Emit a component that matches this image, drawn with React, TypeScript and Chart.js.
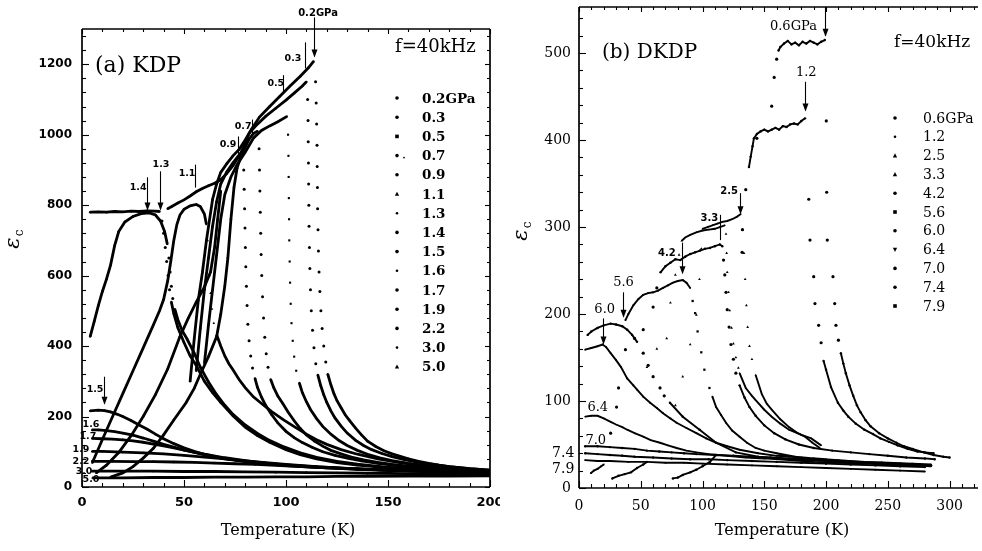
import React, { useEffect, useRef } from "react";
import { Chart, registerables } from "chart.js";

Chart.register(...registerables);

type Pt = [number, number] | null;

// ======================= (a) KDP =======================
const kdpTempTicks = [0, 50, 100, 150, 200];
const kdpEpsTicks = [0, 200, 400, 600, 800, 1000, 1200];
const kdpLabels = ["0.2GPa", "0.3", "0.5", "0.7", "0.9", "1.1", "1.3", "1.4", "1.5", "1.6", "1.7", "1.9", "2.2", "3.0", "5.0"];

const kdp02Curve: Pt[] = [
  [53, 300], [55, 420], [57, 530], [59, 608], [61, 700], [64, 816], [66, 860], [68, 893], [71, 918], [74, 940], [77, 958],
  [80, 985], [83, 1015], [87, 1050], [92, 1080], [97, 1109], [102, 1138], [107, 1166], [111, 1190], [113.5, 1208], null,
  [120.5, 320], [122, 290], [123.5, 265], [125, 245], [127, 225], [129, 205], [131, 190], [134, 168], [137, 148], [140, 130],
  [144, 115], [148, 103], [152, 94], [156, 87], [160, 80], [165, 73], [170, 67], [175, 62], [180, 58], [185, 55], [190, 52], [195, 50], [200, 48],
];
const kdp02Drop: Pt[] = [
  [114.5, 1150], [114.8, 1090], [115, 1030], [115.2, 970], [115.3, 910], [115.4, 850], [115.5, 790], [115.7, 730], [115.9, 670],
  [116.2, 610], [116.6, 555], [117.1, 500], [117.7, 450], [118.5, 400], [119.5, 355],
];
const kdp03Curve: Pt[] = [
  [56, 330], [58, 450], [60, 560], [62, 650], [64, 740], [66, 810], [68, 860], [71, 895], [74, 920], [78, 950], [82, 1005],
  [86, 1030], [90, 1052], [95, 1075], [100, 1098], [104, 1118], [108, 1138], [110, 1150], null,
  [115.6, 318], [117, 288], [118.5, 262], [120, 240], [122, 216], [124, 196], [127, 173], [130, 153], [134, 133], [138, 118],
  [142, 106], [147, 95], [152, 86], [158, 78], [165, 70], [172, 64], [180, 58], [190, 52], [200, 48],
];
const kdp03Drop: Pt[] = [
  [110.6, 1100], [110.8, 1040], [110.9, 980], [111, 920], [111.1, 860], [111.2, 800], [111.3, 740], [111.5, 680], [111.7, 620],
  [112, 560], [112.4, 500], [113, 445], [113.7, 395], [114.6, 350],
];
const kdp05Curve: Pt[] = [
  [60, 350], [62, 460], [64, 560], [66, 660], [68, 760], [70, 830], [73, 880], [76, 915], [80, 950], [84, 990], [88, 1012],
  [92, 1025], [96, 1037], [100.5, 1052], null,
  [106.5, 296], [108, 268], [110, 242], [112, 220], [115, 194], [118, 172], [122, 150], [126, 132], [130, 118], [135, 104],
  [140, 93], [146, 83], [152, 75], [160, 67], [170, 60], [180, 54], [190, 50], [200, 46],
];
const kdp05Drop: Pt[] = [
  [101, 1000], [101.2, 940], [101.3, 880], [101.4, 820], [101.5, 760], [101.6, 700], [101.8, 640], [102, 580], [102.3, 520],
  [102.7, 465], [103.3, 415], [104, 370], [105, 330],
];
const kdp07Curve: Pt[] = [
  [14, 28], [20, 40], [25, 58], [30, 82], [35, 110], [40, 148], [45, 190], [51, 239], [55, 280], [58, 320], [62, 370], [66, 427],
  [68, 490], [70, 570], [71.5, 650], [73, 760], [74.5, 850], [76, 905], [78, 940], [80, 965], [82, 988], [84, 1003], [86, 1010], null,
  [92.5, 305], [94, 282], [96, 258], [98.5, 236], [101, 213], [104, 188], [107, 166], [110, 148], [114, 130], [118, 116], [122, 104],
  [127, 94], [132, 85], [138, 77], [145, 70], [152, 64], [160, 59], [170, 54], [180, 50], [190, 46], [200, 43],
];
const kdp07Drop: Pt[] = [
  [86.8, 960], [87, 900], [87.2, 840], [87.4, 780], [87.6, 720], [87.8, 660], [88.1, 600], [88.5, 540], [89, 480], [89.6, 425],
  [90.3, 378], [91.2, 340],
];
const kdp09Curve: Pt[] = [
  [7, 40], [12, 62], [18, 98], [24, 145], [30, 200], [36, 262], [42, 335], [48, 427], [52, 478], [56, 525], [60, 568], [63, 610],
  [65, 680], [66.5, 760], [68, 840], null,
  [42, 790], [44, 796], [47, 806], [50, 815], [53, 826], [56, 838], [59, 847], [62, 855], [65, 862], [68, 872], [71, 890], [74, 912],
  [76.5, 935], [78.5, 948], null,
  [84.8, 308], [86, 283], [88, 255], [90, 232], [93, 205], [96, 182], [100, 158], [104, 140], [108, 126], [113, 112], [118, 100],
  [124, 90], [130, 82], [137, 74], [145, 67], [155, 60], [165, 55], [180, 49], [200, 43],
];
const kdp09Drop: Pt[] = [
  [79.3, 900], [79.5, 845], [79.7, 790], [79.9, 735], [80.1, 680], [80.3, 625], [80.6, 570], [80.9, 515], [81.3, 462], [81.9, 415],
  [82.7, 372], [83.6, 338],
];
const kdp11Curve: Pt[] = [
  [5, 68], [10, 135], [15, 200], [20, 265], [25, 330], [30, 395], [35, 460], [38, 500], [40, 532], [42, 585], [43.5, 640], [45, 700],
  [46.5, 745], [48, 772], [50, 788], [53, 798], [56, 802], [58, 796], [60, 775], [61, 745], null,
  [66, 432], [68, 400], [70, 372], [72, 350], [74, 333], [77, 305], [80, 282], [84, 256], [88, 237], [93, 214], [99, 190], [105, 168],
  [110, 150], [115, 134], [120, 121], [127, 106], [135, 93], [145, 80], [155, 70], [165, 62], [180, 54], [200, 46],
];
const kdp11Drop: Pt[] = [[61.6, 700], [62, 650], [62.5, 600], [63, 550], [63.7, 505], [64.6, 465]];
const kdp13Curve: Pt[] = [
  [4, 780], [8, 781], [12, 780], [16, 782], [20, 781], [24, 783], [28, 782], [32, 784], [36, 783], [38, 782], null,
  [43.8, 525], [45, 492], [47, 452], [50, 410], [53, 372], [56, 345], [60, 300], [64, 268], [68, 240], [74, 202], [80, 170], [86, 146],
  [92, 127], [100, 106], [107, 92], [115, 80], [125, 69], [135, 62], [150, 54], [165, 48], [180, 44], [200, 39],
];
const kdp13Drop: Pt[] = [[39.2, 755], [40, 720], [40.8, 680], [41.5, 640], [42.2, 600], [42.9, 560]];
const kdp14Curve: Pt[] = [
  [4, 427], [6, 470], [8, 515], [10, 555], [12, 590], [14, 630], [16, 685], [18, 725], [21, 752], [25, 768], [29, 776], [33, 778],
  [36, 772], [38.5, 755], [40.5, 725], [41.8, 690], null,
  [45.5, 505], [47, 475], [49, 445], [51.5, 420], [55, 380], [58, 340], [62, 298], [66, 262], [70, 232], [74, 206], [80, 176], [86, 152],
  [91, 135], [98, 116], [107, 97], [115, 84], [125, 73], [135, 65], [150, 56], [165, 50], [180, 45], [200, 41],
];
const kdp14Drop: Pt[] = [[42.6, 650], [43.2, 610], [43.8, 570], [44.5, 535]];
const kdp15Curve: Pt[] = [
  [4, 216], [8, 218], [11, 217], [14, 213], [17, 207], [20, 200], [24, 189], [28, 176], [32, 164], [36, 150], [40, 137], [45, 123],
  [50, 111], [55, 101], [60, 93], [65, 86], [70, 80], [80, 72], [90, 66], [100, 61], [110, 57], [120, 54], [135, 50], [150, 47],
  [165, 45], [180, 42], [200, 40],
];
const kdp16Curve: Pt[] = [
  [5, 162], [8, 162], [12, 160], [16, 157], [20, 153], [25, 147], [30, 139], [35, 130], [40, 121], [45, 113], [50, 105], [55, 98],
  [60, 91], [70, 81], [80, 73], [90, 67], [100, 62], [115, 56], [130, 52], [150, 47], [170, 44], [200, 40],
];
const kdp17Curve: Pt[] = [
  [5, 138], [10, 137], [15, 136], [20, 134], [25, 131], [30, 127], [35, 122], [40, 117], [45, 111], [50, 105], [55, 99], [60, 93],
  [70, 83], [80, 75], [90, 68], [100, 63], [115, 57], [130, 53], [150, 48], [170, 45], [200, 41],
];
const kdp19Curve: Pt[] = [
  [5, 101], [10, 101], [20, 99], [30, 97], [40, 94], [50, 90], [60, 85], [70, 80], [80, 74], [90, 69], [100, 64], [115, 58], [130, 53],
  [150, 48], [170, 45], [200, 41],
];
const kdp22Curve: Pt[] = [
  [5, 73], [15, 73], [25, 72], [35, 72], [45, 71], [55, 70], [65, 68], [75, 66], [85, 64], [100, 60], [115, 56], [130, 52], [150, 48],
  [170, 45], [200, 42],
];
const kdp30Curve: Pt[] = [
  [5, 45], [20, 45], [35, 45], [50, 44], [65, 44], [80, 43], [95, 42], [110, 41], [125, 40], [140, 39], [160, 38], [180, 37], [200, 36],
];
const kdp50Curve: Pt[] = [
  [5, 26], [20, 26], [35, 27], [50, 27], [65, 28], [80, 28], [95, 29], [110, 29], [125, 30], [140, 30], [160, 31], [180, 31], [200, 32],
];

// ======================= (b) DKDP =======================
const dkdpTempTicks = [0, 50, 100, 150, 200, 250, 300];
const dkdpEpsTicks = [0, 100, 200, 300, 400, 500];
const dkdpLabels = ["0.6GPa", "1.2", "2.5", "3.3", "4.2", "5.6", "6.0", "6.4", "7.0", "7.4", "7.9"];

const dk06Curve: Pt[] = [
  [161.5, 503], [163, 507], [166, 511], [169, 514], [172, 510], [175, 512], [178, 509], [181, 513], [184, 511], [187, 514], [190, 512],
  [193, 510], [196, 513], [199, 515], null,
  [212, 155], [214, 143], [216, 132], [219, 118], [222, 106], [225, 95], [228, 87], [232, 78], [236, 71], [243, 63], [250, 57],
  [257, 52], [263, 48], [270, 45], [279, 41], [287, 38], [295, 36], [300, 35],
];
const dk06Drop: Pt[] = [
  [144, 402], [156, 439], [158, 472], [160, 493], [200.2, 422], [200.5, 340], [201, 285], [205.6, 243], [207, 212], [208, 187], [210, 170],
];
const dk12Curve: Pt[] = [
  [137.6, 369], [139, 381], [140.5, 393], [141.6, 402], [144, 407], [147, 410], [150, 412], [153, 410], [156, 412], [159, 414],
  [162, 412], [165, 416], [168, 415], [171, 418], [174, 419], [177, 418], [180, 422], [183, 425], null,
  [198, 146], [200, 136], [204, 116], [209.6, 98], [214, 89], [218, 82], [224, 74], [231, 67], [238, 62], [244, 57], [251, 53],
  [258, 49], [266, 45], [274, 42], [280, 41], [287, 40],
];
const dk12Drop: Pt[] = [[132, 271], [132.3, 297], [135, 343], [186, 332], [187, 285], [190, 243], [191, 212], [194, 187], [196, 167]];
const dk25Curve: Pt[] = [
  [100, 298], [104, 300], [108, 302], [112, 304], [116, 306], [120, 307], [124, 309], [128, 312], [131, 315], null,
  [143, 130], [148, 108], [152, 97], [156, 90], [163, 79], [170, 70], [176, 64], [183, 59], [189, 52], [195, 46],
];
const dk25Drop: Pt[] = [
  [78, 95], [84, 128], [90, 165], [95, 199], [97.5, 240], [99, 275], [132.5, 297], [133.5, 270], [134.5, 240], [135.5, 210],
  [136.5, 185], [138, 163], [140, 148],
];
const dk33Curve: Pt[] = [
  [83, 284], [86, 288], [90, 291], [95, 294], [100, 296], [105, 297], [110, 298], [114, 300], [118, 302], null,
  [130, 132], [135, 115], [140, 106], [143, 101], [150, 90], [156, 82], [163, 74], [170, 67], [180, 61], [188, 57], [196, 49],
];
const dk33Drop: Pt[] = [
  [55, 139], [63, 160], [71, 172], [74, 213], [78, 245], [81, 268], [119, 292], [119.5, 270], [120, 248], [121, 225], [122, 204],
  [123.5, 184], [125, 166], [127, 150], [129, 138],
];
const dk42Curve: Pt[] = [
  [66, 248], [70, 255], [74, 259], [78, 263], [82, 262], [86, 266], [90, 269], [94, 271], [98, 273], [102, 275], [106, 276], [110, 278],
  [114, 280], [116, 278], null,
  [130, 118], [134, 104], [138, 93], [143, 83], [150, 72], [158, 63], [167, 56], [178, 50], [190, 46], [205, 43], [220, 41], [235, 39],
  [250, 37], [265, 35], [280, 34], [288, 33],
];
const dk42Drop: Pt[] = [
  [25.6, 63], [30.4, 93], [32, 115], [37.6, 159], [45, 172], [52, 182], [60, 208], [63, 230], [117, 262], [118, 245], [119, 225],
  [120, 205], [121.5, 185], [123, 165], [125, 148], [127, 132],
];
const dk56Curve: Pt[] = [
  [5, 159], [10, 161], [15, 163], [19, 165], [22, 162], [25.6, 155], [30, 147], [34, 139], [39, 126], [44, 118], [47, 113], [52, 105],
  [57.6, 98], [63, 92], [68, 86], [74, 80], [79, 75], [87, 69], [95, 63], [103, 57], [111, 52], [120, 48], [130, 44], [145, 40],
  [160, 37], [180, 35], [200, 33], null,
  [37.6, 193], [40, 200], [44, 210], [48, 217], [52, 222], [56, 224], [60, 225], [64, 227], [68, 230], [72, 233], [76, 236], [80, 238],
  [84, 239], [87, 236], [90, 230], null,
  [108, 105], [111, 93], [115, 84], [119, 75], [124, 66], [130, 59], [136, 52], [143, 46], [150, 43], [160, 40], [175, 36], [190, 34],
  [210, 32], [230, 30], [250, 29], [270, 28], [285, 27],
];
const dk56Drop: Pt[] = [[92, 215], [94, 201], [96, 180], [99, 156], [101.5, 136], [105.6, 115]];
const dk60Curve: Pt[] = [
  [7, 176], [10, 180], [15, 184], [20, 187], [25.6, 189], [30, 188], [35, 186], [39, 182], [43, 176], [47, 168], null,
  [73.6, 98], [84, 82], [97.6, 67], [111, 52], [127, 41], [145, 36], [170, 33], [200, 31], [230, 29], [260, 27], [285, 26],
];
const dk60Drop: Pt[] = [[52, 155], [56, 141], [60, 128], [65.6, 115], [69, 106]];
const dk64Curve: Pt[] = [
  [5, 82], [10, 83], [15, 83], [20, 80], [25.6, 76], [30, 73], [35, 70], [39, 67], [45, 63], [52, 59], [58, 55], [65.6, 52], [72, 49],
  [79, 46], [87, 43], [95, 41], [105, 39], [120, 37], [135, 35], [150, 34], [170, 32], [190, 30], [210, 29], [230, 28], [250, 27],
  [270, 26], [285, 25],
];
const dk70Curve: Pt[] = [
  [5, 48], [15, 48], [25, 47], [35, 46], [45, 45], [55, 43], [65, 42], [75, 41], [85, 40], [95, 39], [110, 38], [125, 37], [140, 36],
  [155, 35], [170, 34], [185, 33], [200, 32], [215, 31], [230, 30], [245, 29], [260, 28], [275, 27], [285, 26], null,
  [76, 11], [80, 12], [84, 15], [90, 18], [95, 21], [100, 25], [106, 30], [111, 38],
];
const dk74Curve: Pt[] = [
  [5, 40], [15, 39], [25, 38], [35, 37], [45, 36], [60, 35], [75, 34], [90, 33], [105, 33], [120, 32], [140, 31], [160, 30], [180, 29],
  [200, 28], [220, 27], [240, 26], [260, 25], [280, 24], null,
  [27, 11], [32, 14], [37, 16], [42, 18], [47, 23], [52, 27], [55, 30],
];
const dk79Curve: Pt[] = [
  [5, 32], [15, 31], [25, 31], [40, 30], [55, 30], [70, 29], [85, 29], [100, 28], [120, 27], [140, 26], [160, 25], [180, 24], [200, 23],
  [220, 22], [240, 21], [260, 20], [280, 19], null,
  [9.6, 17], [12, 20], [15, 22], [18, 25], [20, 27],
];

// ======================= assembly =======================
const kdpCurves = [kdp02Curve, kdp03Curve, kdp05Curve, kdp07Curve, kdp09Curve, kdp11Curve, kdp13Curve, kdp14Curve,
  kdp15Curve, kdp16Curve, kdp17Curve, kdp19Curve, kdp22Curve, kdp30Curve, kdp50Curve];
const kdpDrops = [kdp02Drop, kdp03Drop, kdp05Drop, kdp07Drop, kdp09Drop, kdp11Drop, kdp13Drop, kdp14Drop,
  [], [], [], [], [], [], []];
const kdpMarkers = ["circle", "circle", "rect", "pair", "circle", "triangle", "small", "circle", "circle", "small", "circle",
  "circle", "circle", "small", "triangle"];

const dkdpCurves = [dk06Curve, dk12Curve, dk25Curve, dk33Curve, dk42Curve, dk56Curve, dk60Curve, dk64Curve, dk70Curve, dk74Curve, dk79Curve];
const dkdpDrops = [dk06Drop, dk12Drop, dk25Drop, dk33Drop, dk42Drop, dk56Drop, dk60Drop, [], [], [], []];
const dkdpMarkers = ["circle", "small", "triangle", "triangle", "circle", "rect", "circle", "triangleDown", "circle", "circle", "rect"];

type Annot = { text?: string; at?: [number, number]; font?: string; align?: CanvasTextAlign; line?: [number, number, number]; head?: boolean };

const SANS_B = (s: number) => `bold ${s}px "DejaVu Sans"`;
const SERIF = (s: number) => `${s}px "DejaVu Serif"`;

const kdpAnnots: Annot[] = [
  { text: "0.2GPa", at: [115.7, 1345], font: SANS_B(10), line: [113.7, 1333, 1222], head: true },
  { text: "0.3", at: [103.4, 1217], font: SANS_B(9.5), line: [109.3, 1262, 1188] },
  { text: "0.5", at: [95, 1146], font: SANS_B(9.5), line: [98.5, 1169, 1123] },
  { text: "0.7", at: [79, 1024], font: SANS_B(9.5), line: [83.3, 1043, 1001] },
  { text: "0.9", at: [71.6, 972], font: SANS_B(9.5), line: [76.5, 995, 944] },
  { text: "1.1", at: [51.5, 890], font: SANS_B(9.5), line: [55.4, 915, 850] },
  { text: "1.3", at: [38.7, 915], font: SANS_B(9.5), line: [38.2, 896, 788], head: true },
  { text: "1.4", at: [27.5, 850], font: SANS_B(9.5), line: [31.9, 879, 788], head: true },
  { text: "1.5", at: [6.4, 276], font: SANS_B(9.5), line: [10.8, 313, 236], head: true },
  { text: "1.6", at: [4.4, 176], font: SANS_B(9.5) },
  { text: "1.7", at: [2.9, 142], font: SANS_B(9.5) },
  { text: "1.9", at: [-0.5, 105], font: SANS_B(9.5) },
  { text: "2.2", at: [-0.5, 71], font: SANS_B(9.5) },
  { text: "3.0", at: [1, 45], font: SANS_B(9.5) },
  { text: "5.0", at: [4.4, 20], font: SANS_B(9.5) },
];
const dkdpAnnots: Annot[] = [
  { text: "0.6GPa", at: [173.6, 530], font: SERIF(13), line: [199.2, 553, 520], head: true },
  { text: "1.2", at: [184, 478], font: SERIF(13), line: [183.2, 467, 434], head: true },
  { text: "2.5", at: [121.6, 341], font: SANS_B(10), line: [130.4, 339, 316], head: true },
  { text: "3.3", at: [105.6, 310], font: SANS_B(10), line: [114.4, 314, 285] },
  { text: "4.2", at: [71.2, 270], font: SANS_B(10), line: [83.2, 282, 247], head: true },
  { text: "5.6", at: [36, 236], font: SERIF(13), line: [36, 225, 197], head: true },
  { text: "6.0", at: [20.8, 205], font: SERIF(13), line: [19.2, 195, 166], head: true },
  { text: "6.4", at: [15.2, 92], font: SERIF(13) },
  { text: "7.0", at: [13.6, 55], font: SERIF(13) },
  { text: "7.4", at: [-12.8, 40], font: SERIF(14) },
  { text: "7.9", at: [-12.8, 21], font: SERIF(14) },
];

const panels = [
  {
    key: "kdp", left: 0, width: 500,
    padding: { left: 82, right: 10, top: 29, bottom: 64 },
    x: { min: 0, max: 200, minor: 10, major: 50, ticks: kdpTempTicks, labelY: 503, font: SANS_B(13) },
    y: { min: 0, max: 1300, minor: 40, major: 200, ticks: kdpEpsTicks, labelX: 72, font: SANS_B(12) },
    box: true, lineWidth: 2.8, dotRadius: 1.5, lineDot: 1.2,
    labels: kdpLabels, curves: kdpCurves, drops: kdpDrops, markers: kdpMarkers,
    legend: { x: 397, textX: 422, y0: 98, dy: 19.2, font: `bold 13.5px "DejaVu Serif"` },
    title: { text: "(a) KDP", x: 95, y: 66, font: SERIF(22) },
    freq: { text: "f=40kHz", x: 395, y: 47, font: SERIF(18) },
    xTitle: { x: 288, y: 531 },
    yTitle: { x: 14, y: 243 },
    annots: kdpAnnots,
  },
  {
    key: "dkdp", left: 500, width: 482,
    padding: { left: 79, right: 0, top: 7, bottom: 63 },
    x: { min: 0, max: 323, minor: 10, major: 50, ticks: dkdpTempTicks, labelY: 506, font: SERIF(14) },
    y: { min: 0, max: 553, minor: 20, major: 100, ticks: dkdpEpsTicks, labelX: 71, font: SERIF(14) },
    box: false, lineWidth: 1.9, dotRadius: 1.6, lineDot: 1.2,
    labels: dkdpLabels, curves: dkdpCurves, drops: dkdpDrops, markers: dkdpMarkers,
    legend: { x: 395, textX: 423, y0: 118, dy: 18.8, font: SERIF(14) },
    title: { text: "(b) DKDP", x: 102, y: 53, font: SERIF(20) },
    freq: { text: "f=40kHz", x: 394, y: 43, font: SERIF(17) },
    xTitle: { x: 282, y: 531 },
    yTitle: { x: 22, y: 235 },
    annots: dkdpAnnots,
  },
];

const toXY = (pts: Pt[]) => pts.map((p) => (p ? { x: p[0], y: p[1] } : { x: null, y: null }));

function chartStyle(m: string) {
  if (m === "rect") return { pointStyle: "rect", rotation: 0 };
  if (m === "triangle") return { pointStyle: "triangle", rotation: 0 };
  if (m === "triangleDown") return { pointStyle: "triangle", rotation: 180 };
  return { pointStyle: "circle", rotation: 0 };
}

function drawMarker(ctx: CanvasRenderingContext2D, m: string, x: number, y: number) {
  const r = 1.8;
  ctx.beginPath();
  if (m === "rect") ctx.rect(x - r, y - r, 2 * r, 2 * r);
  else if (m === "triangle") { ctx.moveTo(x, y - r * 1.3); ctx.lineTo(x + r * 1.2, y + r); ctx.lineTo(x - r * 1.2, y + r); ctx.closePath(); }
  else if (m === "triangleDown") { ctx.moveTo(x, y + r * 1.3); ctx.lineTo(x + r * 1.2, y - r); ctx.lineTo(x - r * 1.2, y - r); ctx.closePath(); }
  else if (m === "small") ctx.arc(x, y, 1.3, 0, Math.PI * 2);
  else if (m === "pair") { ctx.arc(x, y, r, 0, Math.PI * 2); ctx.moveTo(x + 8, y + 2); ctx.arc(x + 7, y + 2, 0.9, 0, Math.PI * 2); }
  else ctx.arc(x, y, r, 0, Math.PI * 2);
  ctx.fill();
}

function figurePlugin(p: any) {
  return {
    id: "figure-" + p.key,
    afterDraw(chart: any) {
      const ctx: CanvasRenderingContext2D = chart.ctx;
      const a = chart.chartArea;
      const xs = chart.scales.x;
      const ys = chart.scales.y;
      const X = (v: number) => xs.getPixelForValue(v);
      const Y = (v: number) => ys.getPixelForValue(v);
      ctx.save();
      ctx.strokeStyle = "#000";
      ctx.fillStyle = "#000";
      const seg = (x1: number, y1: number, x2: number, y2: number) => {
        ctx.beginPath(); ctx.moveTo(x1, y1); ctx.lineTo(x2, y2); ctx.stroke();
      };
      // frame
      ctx.lineWidth = 1.7;
      seg(a.left, a.top, a.left, a.bottom);
      seg(a.left, a.bottom, a.right, a.bottom);
      seg(a.left, a.top, a.right, a.top);
      if (p.box) seg(a.right, a.top, a.right, a.bottom);
      // ticks (inward)
      ctx.lineWidth = 1.1;
      for (let v = p.x.min; v <= p.x.max + 1e-9; v += p.x.minor) {
        const px = Math.round(X(v)) + 0.5;
        const major = Math.abs(v % p.x.major) < 1e-6;
        const len = major ? 7 : 4;
        seg(px, a.bottom, px, a.bottom - len);
        seg(px, a.top, px, a.top + (major ? 5 : 3));
      }
      for (let v = p.y.min; v <= p.y.max + 1e-9; v += p.y.minor) {
        const py = Math.round(Y(v)) + 0.5;
        const major = Math.abs(v % p.y.major) < 1e-6;
        const len = major ? 7 : 4;
        seg(a.left, py, a.left + len, py);
        if (p.box) seg(a.right, py, a.right - (major ? 5 : 3), py);
      }
      // tick labels
      ctx.textBaseline = "middle";
      ctx.font = p.x.font;
      ctx.textAlign = "center";
      for (const v of p.x.ticks) ctx.fillText(String(v), X(v), p.x.labelY);
      ctx.font = p.y.font;
      ctx.textAlign = "right";
      for (const v of p.y.ticks) ctx.fillText(String(v), p.y.labelX, Y(v));
      // axis titles
      ctx.font = SERIF(16);
      ctx.textAlign = "center";
      ctx.fillText("Temperature (K)", p.xTitle.x, p.xTitle.y);
      ctx.save();
      ctx.translate(p.yTitle.x, p.yTitle.y);
      ctx.rotate(-Math.PI / 2);
      ctx.font = `italic 21px "DejaVu Serif"`;
      ctx.fillText("\u03b5", 0, 0);
      ctx.font = SERIF(12);
      ctx.fillText("c", 10, 6);
      ctx.restore();
      // panel title and frequency
      ctx.textAlign = "left";
      ctx.font = p.title.font;
      ctx.fillText(p.title.text, p.title.x, p.title.y);
      ctx.font = p.freq.font;
      ctx.fillText(p.freq.text, p.freq.x, p.freq.y);
      // legend
      ctx.font = p.legend.font;
      p.labels.forEach((lab: string, i: number) => {
        const yy = p.legend.y0 + i * p.legend.dy;
        drawMarker(ctx, p.markers[i], p.legend.x, yy);
        ctx.fillText(lab, p.legend.textX, yy + 1);
      });
      // annotations
      ctx.lineWidth = 1.1;
      for (const an of p.annots as Annot[]) {
        if (an.text && an.at) {
          ctx.font = an.font || SERIF(13);
          ctx.textAlign = an.align || "center";
          ctx.fillText(an.text, X(an.at[0]), Y(an.at[1]));
        }
        if (an.line) {
          const lx = Math.round(X(an.line[0])) + 0.5;
          const y1 = Y(an.line[1]);
          const y2 = Y(an.line[2]);
          seg(lx, y1, lx, y2);
          if (an.head) {
            ctx.beginPath();
            ctx.moveTo(lx, y2 + 1);
            ctx.lineTo(lx - 3, y2 - 7);
            ctx.lineTo(lx + 3, y2 - 7);
            ctx.closePath();
            ctx.fill();
          }
        }
      }
      ctx.restore();
    },
  };
}

function Panel({ p }: { p: any }) {
  const ref = useRef<HTMLCanvasElement>(null);
  useEffect(() => {
    const datasets: any[] = [];
    p.labels.forEach((lab: string, i: number) => {
      const st = chartStyle(p.markers[i]);
      datasets.push({
        label: lab,
        data: toXY(p.curves[i]),
        showLine: true,
        spanGaps: false,
        borderColor: "#000",
        borderWidth: p.lineWidth,
        backgroundColor: "#000",
        pointBackgroundColor: "#000",
        pointBorderWidth: 0,
        pointRadius: p.lineDot,
        pointStyle: st.pointStyle,
        rotation: st.rotation,
        tension: 0,
      });
      if (p.drops[i].length) {
        datasets.push({
          label: lab + " (transition)",
          data: toXY(p.drops[i]),
          showLine: false,
          backgroundColor: "#000",
          pointBackgroundColor: "#000",
          pointBorderColor: "#000",
          pointBorderWidth: 0,
          pointRadius: p.dotRadius,
          pointStyle: st.pointStyle,
          rotation: st.rotation,
        });
      }
    });
    const chart = new Chart(ref.current as HTMLCanvasElement, {
      type: "scatter",
      data: { datasets },
      options: {
        responsive: false,
        animation: false,
        devicePixelRatio: 1,
        events: [],
        layout: { padding: p.padding },
        scales: {
          x: { type: "linear", min: p.x.min, max: p.x.max, display: false },
          y: { type: "linear", min: p.y.min, max: p.y.max, display: false },
        },
        plugins: { legend: { display: false }, tooltip: { enabled: false } },
      },
      plugins: [figurePlugin(p)],
    } as any);
    return () => chart.destroy();
  }, []);
  return (
    <canvas
      ref={ref}
      width={p.width}
      height={551}
      style={{ position: "absolute", left: p.left, top: 0, width: p.width, height: 551 }}
    />
  );
}

export default function App() {
  return (
    <div style={{ position: "absolute", left: 0, top: 0, width: 982, height: 551, background: "#fff", overflow: "hidden" }}>
      {panels.map((p) => (
        <Panel key={p.key} p={p} />
      ))}
    </div>
  );
}
